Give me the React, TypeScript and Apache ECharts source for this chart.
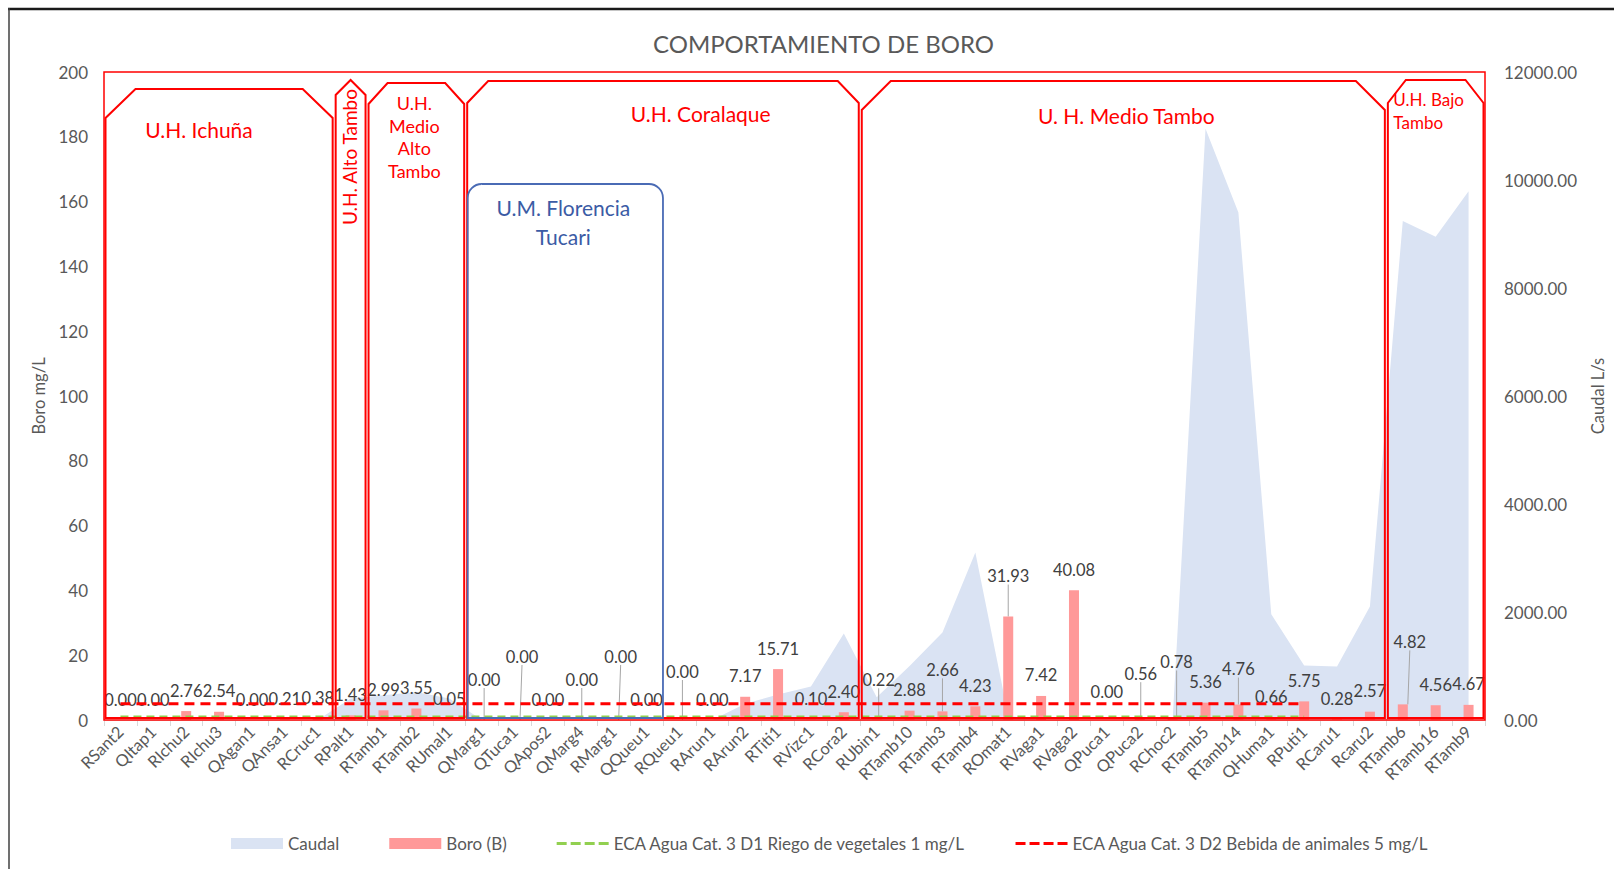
import React, { useEffect, useRef } from 'react';
import * as echarts from 'echarts';

const categories = [
  'RSant2', 'QItap1', 'RIchu2', 'RIchu3', 'QAgan1', 'QAnsa1', 'RCruc1', 'RPalt1',
  'RTamb1', 'RTamb2', 'RUmal1', 'QMarg1', 'QTuca1', 'QApos2', 'QMarg4', 'RMarg1',
  'QQueu1', 'RQueu1', 'RArun1', 'RArun2', 'RTiti1', 'RVizc1', 'RCora2', 'RUbin1',
  'RTamb10', 'RTamb3', 'RTamb4', 'ROmat1', 'RVaga1', 'RVaga2', 'QPuca1', 'QPuca2',
  'RChoc2', 'RTamb5', 'RTamb14', 'QHuma1', 'RPuti1', 'RCaru1', 'Rcaru2', 'RTamb6',
  'RTamb16', 'RTamb9',
];

const boro = [
  0.0, 0.0, 2.76, 2.54, 0.0, 0.21, 0.38, 1.43,
  2.99, 3.55, 0.05, 0.0, 0.0, 0.0, 0.0, 0.0,
  0.0, 0.0, 0.0, 7.17, 15.71, 0.1, 2.4, 0.22,
  2.88, 2.66, 4.23, 31.93, 7.42, 40.08, 0.0, 0.56,
  0.78, 5.36, 4.76, 0.66, 5.75, 0.28, 2.57, 4.82,
  4.56, 4.67,
];

const caudal = [
  0, 0, 0, 0, 0, 0, 0, 400,
  460, 520, 400, 0, 0, 0, 0, 0,
  0, 0, 0, 300, 470, 620, 1600, 420,
  1000, 1620, 3100, 80, 0, 0, 0, 0,
  0, 10950, 9400, 1960, 1010, 990, 2100, 9240,
  8950, 9790,
];

const ecaRiego = [
  1, 1, 1, 1, 1, 1, 1, 1, 1, 1, 1, 1, 1, 1, 1, 1, 1, 1, 1, 1, 1,
  1, 1, 1, 1, 1, 1, 1, 1, 1, 1, 1, 1, 1, 1, 1, 1,
  null, null, null, null, null,
];

const ecaBebida = [
  5, 5, 5, 5, 5, 5, 5, 5, 5, 5, 5, 5, 5, 5, 5, 5, 5, 5, 5, 5, 5,
  5, 5, 5, 5, 5, 5, 5, 5, 5, 5, 5, 5, 5, 5, 5, 5,
  null, null, null, null, null,
];

const boroTicks = [0, 200, 20];
const caudalTicks = [0, 12000, 2000];

// label displacement (styling only), in pixels
const labelLift = [
  0, 0, 0, 0, 0, 0, 0, 0, 0, 0, 0, 20, 43, 0, 20, 43, 0, 28, 0, 0, 0,
  0, 0, 19, 0, 21, 0, 20, 0, 0, 8, 24, 35, 0, 15, 0, 0, 0, 0, 42, 0, 0,
];
const labelShift = [
  0, 0, 0, 0, 0, 0, 0, 0, 0, 0, 0, 2, 7, 0, 1, 7, 0, 3, 0, 0, 0,
  0, 0, 2, 0, 0, 0, 0, 0, 0, 0, 1, 4, 0, 0, 0, 0, 0, 0, 7, 0, 0,
];

// hydrographic units: [label, firstIndex, lastIndexExclusive]
const units = [
  ['U.H. Ichuña', 0, 7],
  ['U.H. Alto Tambo', 7, 8],
  ['U.H.\nMedio\nAlto\nTambo', 8, 11],
  ['U.H. Coralaque', 11, 23],
  ['U. H. Medio Tambo', 23, 39],
  ['U.H. Bajo\nTambo', 39, 42],
];
const subUnit = ['U.M. Florencia\nTucari', 11, 17];

const FONT = 'Lato, "Liberation Sans", sans-serif';

const dashIcon = 'path://M0,0h10v3h-10z M14,0h10v3h-10z M28,0h10v3h-10z M42,0h10v3h-10z';

export default function App() {
  const ref = useRef<HTMLDivElement>(null);

  useEffect(() => {
    if (!ref.current) return;
    const chart = echarts.init(ref.current, null, { renderer: 'svg' });

    const option: any = {
      animation: false,
      backgroundColor: '#ffffff',
      textStyle: { fontFamily: FONT },
      title: {
        text: 'COMPORTAMIENTO DE BORO',
        left: 648,
        top: 26,
        textStyle: { color: '#595959', fontSize: 24, fontWeight: 'normal', fontFamily: FONT },
      },
      grid: { left: 104, right: 127, top: 72, bottom: 149 },
      legend: {
        top: 830,
        left: 226,
        itemWidth: 52,
        itemHeight: 11,
        itemGap: 50,
        textStyle: { color: '#595959', fontSize: 17, fontFamily: FONT },
        data: [
          { name: 'Caudal', icon: 'rect' },
          { name: 'Boro (B)', icon: 'rect' },
          { name: 'ECA Agua Cat. 3 D1 Riego de vegetales 1 mg/L', icon: dashIcon, itemStyle: { color: '#92D050' } },
          { name: 'ECA Agua Cat. 3 D2 Bebida de animales 5 mg/L', icon: dashIcon, itemStyle: { color: '#FF0000' } },
        ],
      },
      xAxis: {
        type: 'category',
        data: categories,
        boundaryGap: true,
        axisLine: { lineStyle: { color: '#d9d9d9', width: 1 } },
        axisTick: { show: true, length: 6, lineStyle: { color: '#d9d9d9' } },
        axisLabel: { rotate: 45, interval: 0, color: '#595959', fontSize: 16.5, margin: 9, fontFamily: FONT },
        splitLine: { show: false },
      },
      yAxis: [
        {
          type: 'value',
          min: boroTicks[0],
          max: boroTicks[1],
          interval: boroTicks[2],
          name: 'Boro mg/L',
          nameLocation: 'middle',
          nameGap: 57,
          nameTextStyle: { color: '#595959', fontSize: 16.5, fontFamily: FONT },
          axisLabel: { color: '#595959', fontSize: 17, margin: 16, fontFamily: FONT },
          axisLine: { show: false },
          axisTick: { show: false },
          splitLine: { show: false },
        },
        {
          type: 'value',
          min: caudalTicks[0],
          max: caudalTicks[1],
          interval: caudalTicks[2],
          position: 'right',
          name: 'Caudal L/s',
          nameLocation: 'middle',
          nameGap: 104,
          nameTextStyle: { color: '#595959', fontSize: 16.5, fontFamily: FONT },
          axisLabel: {
            color: '#595959',
            fontSize: 17,
            margin: 19,
            fontFamily: FONT,
            formatter: (v: number) => v.toFixed(2),
          },
          axisLine: { show: false },
          axisTick: { show: false },
          splitLine: { show: false },
        },
      ],
      series: [
        {
          name: 'Caudal',
          type: 'line',
          yAxisIndex: 1,
          data: caudal,
          symbol: 'none',
          z: 1,
          itemStyle: { color: '#DAE3F3' },
          lineStyle: { width: 0, color: '#DAE3F3' },
          areaStyle: { color: '#DAE3F3', opacity: 1 },
        },
        {
          name: 'Boro (B)',
          type: 'bar',
          yAxisIndex: 0,
          barWidth: 10,
          z: 3,
          itemStyle: { color: '#FF9999' },
          data: boro.map((v, i) => ({
            value: v,
            labelLine: { show: labelLift[i] > 10 },
          })),
          label: {
            show: true,
            position: 'top',
            distance: 12,
            color: '#404040',
            fontSize: 16.5,
            fontFamily: FONT,
            formatter: (p: any) => Number(p.value).toFixed(2),
          },
          labelLine: { show: false, lineStyle: { color: '#a6a6a6', width: 1 } },
          labelLayout: (p: any) => ({
            dx: labelShift[p.dataIndex],
            dy: -labelLift[p.dataIndex],
          }),
        },
        {
          name: 'ECA Agua Cat. 3 D1 Riego de vegetales 1 mg/L',
          type: 'line',
          yAxisIndex: 0,
          data: ecaRiego,
          symbol: 'none',
          z: 4,
          itemStyle: { color: '#92D050' },
          lineStyle: { color: '#92D050', width: 2.5, type: [8, 5] },
        },
        {
          name: 'ECA Agua Cat. 3 D2 Bebida de animales 5 mg/L',
          type: 'line',
          yAxisIndex: 0,
          data: ecaBebida,
          symbol: 'none',
          z: 4,
          itemStyle: { color: '#FF0000' },
          lineStyle: { color: '#FF0000', width: 3, type: [10, 6] },
        },
      ],
    };

    chart.setOption(option);

    const c0 = chart.convertToPixel({ xAxisIndex: 0 }, 0) as number;
    const c1 = chart.convertToPixel({ xAxisIndex: 0 }, 1) as number;
    const bw = c1 - c0;
    const bound = (k: number) => c0 - bw / 2 + k * bw;
    const yBottom = chart.convertToPixel({ yAxisIndex: 0 }, 0) as number;
    const yTop = chart.convertToPixel({ yAxisIndex: 0 }, 200) as number;
    const xLeft = bound(0);
    const xRight = bound(categories.length);

    const red = '#FF0000';
    // shape styling per unit: [topY, shoulderY, chamfer]
    const shapeStyle: number[][] = [
      [89, 118, 30],
      [80, 95, 0],
      [83, 104, 19],
      [81, 103, 21],
      [81, 110, 29],
      [80, 103, 18],
    ];

    const graphics: any[] = [];
    // chart frame
    graphics.push({
      type: 'line',
      shape: { x1: 8, y1: 9, x2: 1614, y2: 9 },
      style: { stroke: '#1a1a1a', lineWidth: 2.5 },
      z: 20,
    });
    graphics.push({
      type: 'line',
      shape: { x1: 9, y1: 8, x2: 9, y2: 869 },
      style: { stroke: '#404040', lineWidth: 1.5 },
      z: 20,
    });
    // outer plot rect
    graphics.push({
      type: 'rect',
      shape: { x: xLeft, y: yTop, width: xRight - xLeft, height: yBottom - yTop },
      style: { fill: 'none', stroke: red, lineWidth: 1.5 },
      z: 10,
    });

    units.forEach((u, idx) => {
      const [, s, e] = u as [string, number, number];
      const x0 = bound(s) + 1.5;
      const x1 = bound(e) - 1.5;
      const [ty, sy, ch0] = shapeStyle[idx];
      const ch = ch0 === 0 ? (x1 - x0) / 2 : ch0;
      const yb = yBottom - 2;
      const pts = ch0 === 0
        ? [[x0, yb], [x0, sy], [x0 + ch, ty], [x1, sy], [x1, yb]]
        : [[x0, yb], [x0, sy], [x0 + ch, ty], [x1 - ch, ty], [x1, sy], [x1, yb]];
      graphics.push({
        type: 'polygon',
        shape: { points: pts },
        style: { fill: 'none', stroke: red, lineWidth: 2 },
        z: 10,
      });
    });

    // texts
    const textStyle = (t: string, size: number, color: string, align = 'center', lh?: number) => ({
      text: t,
      x: 0,
      y: 0,
      fill: color,
      font: `${size}px ${FONT}`,
      align,
      verticalAlign: 'middle',
      lineHeight: lh ?? Math.round(size * 1.4),
    });
    graphics.push({ type: 'text', x: bound(0) + 95, y: 129, style: textStyle(units[0][0] as string, 21, red), z: 12 });
    graphics.push({
      type: 'text',
      x: (bound(7) + bound(8)) / 2 - 1,
      y: 157,
      rotation: Math.PI / 2,
      style: textStyle(units[1][0] as string, 19, red),
      z: 12,
    });
    graphics.push({ type: 'text', x: (bound(8) + bound(11)) / 2 - 2, y: 137, style: textStyle(units[2][0] as string, 18, red, 'center', 22.6), z: 12 });
    graphics.push({ type: 'text', x: bound(11) + 235, y: 113, style: textStyle(units[3][0] as string, 21, red), z: 12 });
    graphics.push({ type: 'text', x: (bound(23) + bound(39)) / 2 + 3, y: 115, style: textStyle(units[4][0] as string, 21, red), z: 12 });
    graphics.push({ type: 'text', x: bound(39) + 7, y: 111, style: textStyle(units[5][0] as string, 17, red, 'left', 22.6), z: 12 });

    // sub unit (blue)
    const blue = '#4A6BB5';
    const bx0 = bound(subUnit[1] as number) + 2;
    const bx1 = bound(subUnit[2] as number);
    graphics.push({
      type: 'rect',
      shape: { x: bx0, y: 184, width: bx1 - bx0, height: yBottom - 2 - 184, r: [14, 14, 0, 0] },
      style: { fill: 'none', stroke: blue, lineWidth: 1.8 },
      z: 11,
    });
    graphics.push({
      type: 'text',
      x: (bx0 + bx1) / 2 - 2,
      y: 222,
      style: textStyle(subUnit[0] as string, 21, '#3B5BA5', 'center', 29),
      z: 12,
    });

    chart.setOption({ graphic: { elements: graphics } });

    return () => {
      chart.dispose();
    };
  }, []);

  return (
    <div
      ref={ref}
      style={{ position: 'fixed', left: 0, top: 0, width: 1614, height: 869, background: '#fff' }}
    />
  );
}
